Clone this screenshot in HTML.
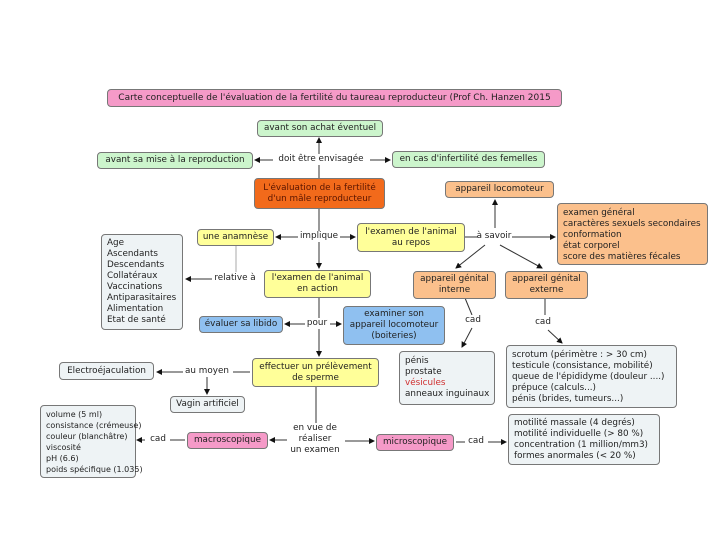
<!DOCTYPE html>
<html><head><meta charset="utf-8"><style>
body{margin:0;width:720px;height:540px;background:#fff;position:relative;overflow:hidden;font-family:"DejaVu Sans","Liberation Sans",sans-serif;font-size:8.8px;color:#222}
.b{position:absolute;border:1px solid #777;border-radius:4px;box-sizing:border-box;text-align:center;line-height:11px;display:flex;align-items:center;justify-content:center;flex-direction:column;white-space:nowrap}
.l{position:absolute;line-height:11px;text-align:center;background:#fff;white-space:nowrap}
.g{background:#ccf5cc}.y{background:#ffff99}.o{background:#fbc08c}.p{background:#f59ac8}.bl{background:#8fc0f0}.w{background:#eef3f5}
.lst{align-items:flex-start;text-align:left;padding-left:5px;display:block;padding-top:3px}
svg{position:absolute;left:0;top:0}
</style></head><body>
<svg width="720" height="540">
<defs><marker id="a" markerWidth="6" markerHeight="6" refX="5" refY="3" orient="auto"><path d="M0,0L6,3L0,6z" fill="#111"/></marker></defs>
<g stroke="#333" stroke-width="1" fill="none">
<line x1="319" y1="178" x2="319" y2="138" marker-end="url(#a)"/>
<line x1="275" y1="160" x2="255" y2="160" marker-end="url(#a)"/>
<line x1="370" y1="160" x2="390" y2="160" marker-end="url(#a)"/>
<line x1="319" y1="208" x2="319" y2="268" marker-end="url(#a)"/>
<line x1="298" y1="237" x2="276" y2="237" marker-end="url(#a)"/>
<line x1="340" y1="237" x2="355" y2="237" marker-end="url(#a)"/>
<line x1="465" y1="237" x2="478" y2="237"/>
<line x1="495" y1="228" x2="495" y2="200" marker-end="url(#a)"/>
<line x1="512" y1="237" x2="555" y2="237" marker-end="url(#a)"/>
<line x1="485" y1="245" x2="456" y2="268" marker-end="url(#a)"/>
<line x1="500" y1="245" x2="542" y2="268" marker-end="url(#a)"/>
<line x1="236" y1="246" x2="236" y2="272" stroke="#aaa"/>
<line x1="220" y1="279" x2="186" y2="279" marker-end="url(#a)"/>
<line x1="319" y1="298" x2="319" y2="356" marker-end="url(#a)"/>
<line x1="305" y1="324" x2="285" y2="324" marker-end="url(#a)"/>
<line x1="330" y1="324" x2="341" y2="324" marker-end="url(#a)"/>
<line x1="465" y1="298" x2="472" y2="315"/>
<line x1="472" y1="328" x2="462" y2="347" marker-end="url(#a)"/>
<line x1="545" y1="298" x2="545" y2="315"/>
<line x1="548" y1="330" x2="562" y2="343" marker-end="url(#a)"/>
<line x1="250" y1="372" x2="233" y2="372"/>
<line x1="183" y1="372" x2="157" y2="372" marker-end="url(#a)"/>
<line x1="207" y1="377" x2="207" y2="394" marker-end="url(#a)"/>
<line x1="316" y1="387" x2="316" y2="425"/>
<line x1="287" y1="440" x2="270" y2="440" marker-end="url(#a)"/>
<line x1="345" y1="441" x2="374" y2="441" marker-end="url(#a)"/>
<line x1="185" y1="440" x2="170" y2="440"/>
<line x1="145" y1="440" x2="137" y2="440" marker-end="url(#a)"/>
<line x1="456" y1="442" x2="465" y2="442"/>
<line x1="488" y1="442" x2="506" y2="442" marker-end="url(#a)"/>
</g></svg>
<div class="b p" style="left:107px;top:89px;width:455px;height:18px;font-size:9px">Carte conceptuelle de l'évaluation de la fertilité du taureau reproducteur (Prof Ch. Hanzen 2015</div>
<div class="b g" style="left:257px;top:120px;width:126px;height:17px">avant son achat éventuel</div>
<div class="b g" style="left:97px;top:152px;width:156px;height:17px">avant sa mise à la reproduction</div>
<div class="l" style="left:273px;top:154px;width:96px">doit être envisagée</div>
<div class="b g" style="left:392px;top:151px;width:153px;height:17px">en cas d'infertilité des femelles</div>
<div class="b" style="left:254px;top:178px;width:131px;height:31px;background:#f26a1b;color:#5a1500">L'évaluation de la fertilité<br>d'un mâle reproducteur</div>
<div class="b o" style="left:445px;top:181px;width:109px;height:17px">appareil locomoteur</div>
<div class="b o lst" style="left:557px;top:203px;width:151px;height:62px;padding-top:4px">examen général<br>caractères sexuels secondaires<br>conformation<br>état corporel<br>score des matières fécales</div>
<div class="b y" style="left:197px;top:229px;width:77px;height:17px">une anamnèse</div>
<div class="l" style="left:299px;top:231px;width:40px">implique</div>
<div class="b y" style="left:357px;top:223px;width:108px;height:29px">l'examen de l'animal<br>au repos</div>
<div class="l" style="left:475px;top:231px;width:38px;background:none">à savoir</div>
<div class="b w lst" style="left:101px;top:234px;width:82px;height:96px;padding-top:3px">Age<br>Ascendants<br>Descendants<br>Collatéraux<br>Vaccinations<br>Antiparasitaires<br>Alimentation<br>Etat de santé</div>
<div class="l" style="left:212px;top:273px;width:46px">relative à</div>
<div class="b y" style="left:264px;top:270px;width:107px;height:28px">l'examen de l'animal<br>en action</div>
<div class="b o" style="left:413px;top:271px;width:83px;height:28px">appareil génital<br>interne</div>
<div class="b o" style="left:505px;top:271px;width:83px;height:28px">appareil génital<br>externe</div>
<div class="b bl" style="left:199px;top:316px;width:84px;height:17px">évaluer sa libido</div>
<div class="l" style="left:305px;top:318px;width:24px">pour</div>
<div class="b bl" style="left:343px;top:306px;width:102px;height:39px">examiner son<br>appareil locomoteur<br>(boiteries)</div>
<div class="l" style="left:463px;top:315px;width:20px">cad</div>
<div class="l" style="left:533px;top:317px;width:20px">cad</div>
<div class="b y" style="left:252px;top:358px;width:127px;height:29px">effectuer un prélèvement<br>de sperme</div>
<div class="b w lst" style="left:399px;top:351px;width:96px;height:54px;padding-top:4px">pénis<br>prostate<br><span style="color:#d03030">vésicules</span><br>anneaux inguinaux</div>
<div class="b w lst" style="left:506px;top:345px;width:171px;height:63px;padding-top:4px">scrotum (périmètre : &gt; 30 cm)<br>testicule (consistance, mobilité)<br>queue de l'épididyme (douleur ....)<br>prépuce (calculs...)<br>pénis (brides, tumeurs...)</div>
<div class="b w" style="left:59px;top:362px;width:95px;height:18px">Electroéjaculation</div>
<div class="l" style="left:183px;top:366px;width:48px">au moyen</div>
<div class="b w" style="left:170px;top:396px;width:75px;height:17px">Vagin artificiel</div>
<div class="b w lst" style="left:40px;top:405px;width:96px;height:73px;padding-top:3px;font-size:8px">volume (5 ml)<br>consistance (crémeuse)<br>couleur (blanchâtre)<br>viscosité<br>pH (6.6)<br>poids spécifique (1.035)</div>
<div class="l" style="left:148px;top:434px;width:20px">cad</div>
<div class="b p" style="left:187px;top:432px;width:81px;height:17px">macroscopique</div>
<div class="l" style="left:288px;top:423px;width:54px">en vue de<br>réaliser<br>un examen</div>
<div class="b p" style="left:376px;top:434px;width:78px;height:17px">microscopique</div>
<div class="l" style="left:466px;top:436px;width:20px">cad</div>
<div class="b w lst" style="left:508px;top:414px;width:152px;height:51px;padding-top:3px">motilité massale (4 degrés)<br>motilité individuelle (&gt; 80 %)<br>concentration (1 million/mm3)<br>formes anormales (&lt; 20 %)</div>
</body></html>
